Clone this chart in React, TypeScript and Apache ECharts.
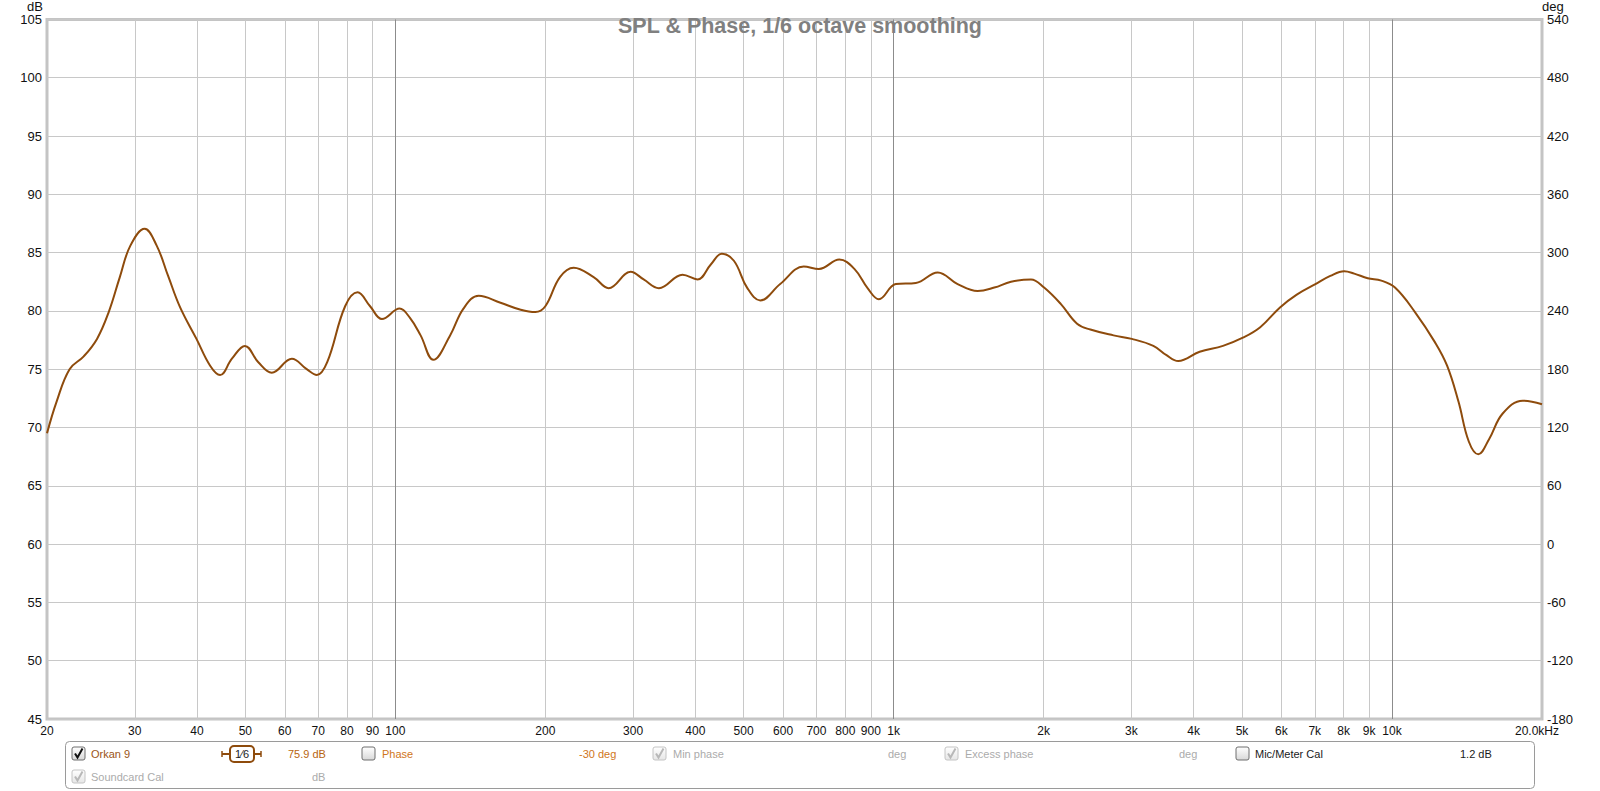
import React, { useEffect, useRef } from "react";
import * as echarts from "echarts";

// Frequency (Hz) and SPL (dB)
const frequencies = [
  20, 20.9, 22.2, 23.7, 25.2, 26.6, 28.0, 29.4, 31.4, 33.2, 35.0, 37.0, 39.9, 42.5, 44.5, 47.0, 49.9,
  53.1, 56.5, 62.0, 66.4, 69.6, 73.0, 79.3, 84.0, 89.0, 94.0, 102, 107, 112.4, 119.2, 128.8, 137, 147,
  162.6, 178.5, 191, 200, 214, 228, 250, 268, 296.6, 315, 338, 377, 404, 430, 452, 478, 508, 540, 592,
  660, 708, 778, 834, 888, 934, 1010, 1108, 1226, 1344, 1474, 1592, 1720, 1886, 2004, 2164, 2334, 2482,
  2762, 3006, 3320, 3528, 3724, 4112, 4580, 5020, 5440, 5960, 6440, 7020, 7520, 8020, 8400, 8940, 9520,
  10140, 11120, 12200, 12900, 13600, 14260, 14900, 15660, 16680, 18300, 20000,
];
const splValues = [
  69.5, 72.2, 75.0, 76.1, 77.6, 79.9, 82.9, 85.6, 87.05, 85.6, 83.0, 80.3, 77.6, 75.3, 74.5, 75.9, 77.0,
  75.6, 74.7, 75.9, 75.0, 74.5, 75.6, 80.4, 81.6, 80.4, 79.3, 80.2, 79.4, 77.9, 75.8, 77.9, 80.2, 81.3,
  80.7, 80.1, 79.9, 80.4, 82.9, 83.7, 82.9, 81.95, 83.35, 82.7, 81.95, 83.1, 82.7, 84.0, 84.9, 84.3, 82.0, 80.9, 82.3,
  83.8, 83.6, 84.4, 83.6, 81.9, 81.0, 82.3, 82.4, 83.3, 82.3, 81.7, 82.0, 82.5, 82.7, 82.0, 80.6, 78.9, 78.4,
  77.9, 77.6, 77.0, 76.2, 75.7, 76.5, 77.0, 77.7, 78.6, 80.3, 81.4, 82.3, 83.0, 83.4, 83.2, 82.8, 82.6,
  82.0, 79.9, 77.3, 75.3, 72.2, 68.8, 67.7, 69.0, 71.2, 72.3, 72.0,
];

const xTickFreqs = [
  20, 30, 40, 50, 60, 70, 80, 90, 100, 200, 300, 400, 500, 600, 700, 800, 900, 1000,
  2000, 3000, 4000, 5000, 6000, 7000, 8000, 9000, 10000, 20000,
];
const xTickLabels = [
  "20", "30", "40", "50", "60", "70", "80", "90", "100", "200", "300", "400", "500", "600", "700", "800", "900", "1k",
  "2k", "3k", "4k", "5k", "6k", "7k", "8k", "9k", "10k", "20.0kHz",
];
const majorFreqs = [100, 1000, 10000];
const edgeFreqs = [20, 20000];

const FONT = "'Liberation Sans', Arial, sans-serif";
const CURVE = "#8E4B0C";

function checkbox(x: number, y: number, checked: boolean, grey: boolean): any[] {
  const els: any[] = [
    {
      type: "rect",
      shape: { x, y, width: 13, height: 13, r: 2 },
      style: {
        fill: new echarts.graphic.LinearGradient(0, 0, 0, 1, [
          { offset: 0, color: "#ffffff" },
          { offset: 1, color: grey ? "#e6e6e6" : "#d8d8d8" },
        ]),
        stroke: grey ? "#c4c4c4" : "#6e6e6e",
        lineWidth: 1,
      },
    },
  ];
  if (checked) {
    els.push({
      type: "polyline",
      shape: { points: [[x + 3, y + 6.5], [x + 5.5, y + 10.5], [x + 10.5, y + 1.5]] },
      style: { stroke: grey ? "#b8b8b8" : "#111111", lineWidth: 2, fill: null },
    });
  }
  return els;
}

function label(x: number, y: number, text: string, color: string): any {
  return {
    type: "text",
    x,
    y,
    style: { text, fill: color, fontSize: 11, fontFamily: FONT, verticalAlign: "middle", align: "left" },
  };
}

export default function App() {
  const ref = useRef<HTMLDivElement>(null);
  useEffect(() => {
    if (!ref.current) return;
    const chart = echarts.init(ref.current, undefined, { renderer: "svg" });
    const data = frequencies.map((f, i) => [f, splValues[i]]);

    const markData = xTickFreqs.map((f, i) => {
      let color = "#c8c8c8";
      if (majorFreqs.includes(f)) color = "#8c8c8c";
      if (edgeFreqs.includes(f)) color = "rgba(0,0,0,0)";
      return {
        xAxis: f,
        lineStyle: { color, width: 1, type: "solid" },
        label: {
          formatter: xTickLabels[i],
          offset: f === 20000 ? [-5, 0] : [0, 0],
        },
      };
    });

    const r1 = 754;
    const r2 = 777;
    const graphics: any[] = [
      {
        type: "rect",
        shape: { x: 65.5, y: 741.5, width: 1469, height: 47, r: 4 },
        style: { fill: "#ffffff", stroke: "#9a9a9a", lineWidth: 1 },
      },
      ...checkbox(72, 747, true, false),
      label(91, r1, "Orkan 9", "#9A5516"),
      { type: "line", shape: { x1: 222, y1: r1, x2: 230, y2: r1 }, style: { stroke: CURVE, lineWidth: 2 } },
      { type: "line", shape: { x1: 254, y1: r1, x2: 261, y2: r1 }, style: { stroke: CURVE, lineWidth: 2 } },
      { type: "line", shape: { x1: 222, y1: r1 - 3, x2: 222, y2: r1 + 3 }, style: { stroke: CURVE, lineWidth: 1.5 } },
      { type: "line", shape: { x1: 261, y1: r1 - 3, x2: 261, y2: r1 + 3 }, style: { stroke: CURVE, lineWidth: 1.5 } },
      {
        type: "rect",
        shape: { x: 230, y: 746, width: 24, height: 16, r: 4 },
        style: { fill: "#ffffff", stroke: CURVE, lineWidth: 2 },
      },
      {
        type: "text",
        x: 242,
        y: r1,
        style: { text: "1⁄6", fill: "#222", fontSize: 11, fontFamily: FONT, align: "center", verticalAlign: "middle" },
      },
      label(288, r1, "75.9 dB", "#B8650F"),
      ...checkbox(362, 747, false, false),
      label(382, r1, "Phase", "#D0761A"),
      label(579, r1, "-30 deg", "#D0761A"),
      ...checkbox(653, 747, true, true),
      label(673, r1, "Min phase", "#ababab"),
      label(888, r1, "deg", "#ababab"),
      ...checkbox(945, 747, true, true),
      label(965, r1, "Excess phase", "#ababab"),
      label(1179, r1, "deg", "#ababab"),
      ...checkbox(1236, 747, false, false),
      label(1255, r1, "Mic/Meter Cal", "#1a1a1a"),
      label(1460, r1, "1.2 dB", "#1a1a1a"),
      ...checkbox(72, 770, true, true),
      label(91, r2, "Soundcard Cal", "#ababab"),
      label(312, r2, "dB", "#ababab"),
    ];

    chart.setOption({
      animation: false,
      backgroundColor: "#ffffff",
      title: {
        text: "SPL & Phase, 1/6 octave smoothing",
        left: "center",
        top: 15,
        padding: 0,
        textStyle: { color: "#808080", fontSize: 21.5, fontWeight: "bold", fontFamily: FONT },
      },
      grid: {
        left: 47,
        right: 58,
        top: 15.5,
        bottom: 72,
        show: true,
        backgroundColor: "#ffffff",
        borderColor: "#c4c4c4",
        borderWidth: 3,
      },
      xAxis: {
        type: "log",
        logBase: 10,
        min: 20,
        max: 20000,
        axisLine: { show: false },
        axisTick: { show: false },
        axisLabel: { show: false },
        splitLine: { show: false },
      },
      yAxis: [
        {
          type: "value",
          min: 45,
          max: 105,
          interval: 5,
          name: "dB",
          nameLocation: "end",
          nameGap: 3,
          nameTextStyle: { color: "#111", fontSize: 13, fontFamily: FONT, align: "right", padding: [0, 4, 0, 0] },
          axisLine: { show: false },
          axisTick: { show: false },
          axisLabel: { margin: 5, color: "#111", fontSize: 13, fontFamily: FONT },
          splitLine: { show: true, lineStyle: { color: "#c8c8c8", width: 1 } },
        },
        {
          type: "value",
          min: -180,
          max: 540,
          interval: 60,
          position: "right",
          name: "deg",
          nameLocation: "end",
          nameGap: 3,
          nameTextStyle: { color: "#111", fontSize: 13, fontFamily: FONT, align: "left", padding: [0, 0, 0, 0] },
          axisLine: { show: false },
          axisTick: { show: false },
          axisLabel: { margin: 5, color: "#111", fontSize: 13, fontFamily: FONT },
          splitLine: { show: false },
        },
      ],
      series: [
        {
          type: "line",
          name: "grid",
          data,
          silent: true,
          clip: false,
          z: 1,
          showSymbol: false,
          lineStyle: { opacity: 0 },
          markLine: {
            silent: true,
            symbol: ["none", "none"],
            animation: false,
            emphasis: { disabled: true },
            label: {
              show: true,
              position: "start",
              distance: 6,
              color: "#111",
              fontSize: 12,
              fontFamily: FONT,
            },
            data: markData,
          },
        },
        {
          type: "line",
          name: "Orkan 9",
          data,
          z: 5,
          smooth: 0.4,
          showSymbol: false,
          symbol: "none",
          lineStyle: { color: CURVE, width: 2 },
        },
      ],
      graphic: graphics,
    });
    return () => chart.dispose();
  }, []);
  return <div ref={ref} style={{ position: "fixed", left: 0, top: 0, width: 1600, height: 791 }} />;
}
